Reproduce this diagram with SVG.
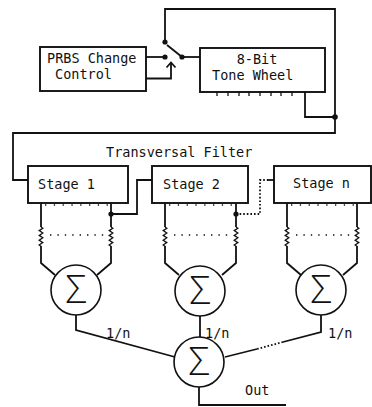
<svg xmlns="http://www.w3.org/2000/svg" width="372" height="407" viewBox="0 0 372 407">
<style>
.ln{fill:none;stroke:#111;stroke-width:1.8;stroke-linejoin:miter}
.thin{fill:none;stroke:#111;stroke-width:1.3}
.dot{fill:#111}
.box{fill:#fff;stroke:#111;stroke-width:1.9}
.ticks{fill:none;stroke:#111;stroke-width:1.3;stroke-dasharray:1.3 7.5}
.dots{fill:none;stroke:#111;stroke-width:1.4;stroke-dasharray:1.4 6}
.dash{fill:none;stroke:#111;stroke-width:1.8;stroke-dasharray:1.6 2}
.t{font-family:"DejaVu Sans Mono","Liberation Mono",monospace;font-size:13.5px;fill:#111}
.sig{font-family:"Open Sans","Lato","DejaVu Sans",sans-serif;font-weight:300;font-size:38px;fill:#111;text-anchor:middle}
.c{fill:#fff;stroke:#111;stroke-width:1.6}
</style>
<rect width="372" height="407" fill="#fff"/>
<defs>
<path id="res" class="thin" d="M0,0 l1.8,1.2 l-3.6,2.4 l3.6,2.4 l-3.6,2.4 l3.6,2.4 l-3.6,2.4 l3.6,2.4 l-3.6,2.4 l1.8,1.2"/>
</defs>
<g id="connectors">
<path class="ln" d="M165,42 V9 H335 V133 H13 V180 H28"/>
<path class="ln" d="M305,92 V117 H335"/>
<circle class="dot" cx="335" cy="117" r="2.8"/>
<path class="ln" d="M146,57 H165"/>
<circle class="dot" cx="165" cy="57" r="2.6"/>
<circle class="dot" cx="165" cy="42" r="2.6"/>
<path class="ln" d="M167,45 L182,57"/>
<circle class="dot" cx="182" cy="57" r="2.6"/>
<path class="ln" d="M182,57 H200"/>
<path class="ln" d="M127,72 H131 A6.5,6.5 0 0 1 131,85 H127 Z"/>
<path class="ln" d="M137.5,78.5 H171 V62.5"/>
<path class="ln" d="M166.5,67.5 L171,62.5 L175.5,67.5"/>
<path class="ln" d="M111,214 H137 V180 H152"/>
<circle class="dot" cx="111" cy="214" r="2.6"/>
<path class="dash" d="M236,214 H260 V180 H268"/>
<path class="ln" d="M268,180 H274"/>
<circle class="dot" cx="236" cy="214" r="2.6"/>
<path class="ln" d="M76,315 V330 L175,357"/>
<path class="ln" d="M200,316 V337"/>
<path class="ln" d="M321,315 V332 L283,342"/>
<path class="dash" d="M283,342 L257,349"/>
<path class="ln" d="M257,349 L225,357"/>
<path class="ln" d="M199,387 V405 H286"/>
</g>
<g id="prbs">
<rect class="box" x="40" y="47" width="106" height="44"/>
<text class="t" x="47" y="63">PRBS Change</text>
<text class="t" x="55" y="79">Control</text>
</g>
<g id="tonewheel">
<rect class="box" x="200" y="48" width="125" height="44"/>
<text class="t" x="257" y="64" text-anchor="middle">8-Bit</text>
<text class="t" x="212" y="80">Tone Wheel</text>
<path class="thin" d="M217,92 v4 M228,92 v4 M239,92 v4 M249,92 v4 M260,92 v4 M271,92 v4 M281,92 v4 M292,92 v4"/>
</g>
<text id="filter-label" class="t" x="106" y="157">Transversal Filter</text>
<g id="stage1">
<rect class="box" x="28" y="166" width="100" height="37"/>
<text class="t" x="38" y="189">Stage 1</text>
<path class="ticks" d="M45,205 H108"/>
<path class="ln" d="M41,203 V227 M41,246 V263 L55,275 M111,203 V227 M111,246 V263 L97,275"/>
<use href="#res" x="41" y="227"/>
<use href="#res" x="111" y="227"/>
<path class="dots" d="M50,235 H104"/>
</g>
<g id="stage2">
<rect class="box" x="152" y="166" width="96" height="37"/>
<text class="t" x="163" y="189">Stage 2</text>
<path class="ticks" d="M169,205 H233"/>
<path class="ln" d="M165,203 V227 M165,246 V263 L179,275 M236,203 V227 M236,246 V263 L222,275"/>
<use href="#res" x="165" y="227"/>
<use href="#res" x="236" y="227"/>
<path class="dots" d="M174,235 H229"/>
</g>
<g id="stagen">
<rect class="box" x="274" y="166" width="97" height="37"/>
<text class="t" x="293" y="188">Stage n</text>
<path class="ticks" d="M291,205 H355"/>
<path class="ln" d="M287,203 V227 M287,246 V263 L301,275 M357,203 V227 M357,246 V263 L343,275"/>
<use href="#res" x="287" y="227"/>
<use href="#res" x="357" y="227"/>
<path class="dots" d="M296,235 H351"/>
</g>
<g id="sum1">
<circle class="c" cx="76" cy="290" r="25"/>
<text class="sig" x="76" y="303">Σ</text>
</g>
<g id="sum2">
<circle class="c" cx="200" cy="291" r="25"/>
<text class="sig" x="200" y="304">Σ</text>
</g>
<g id="sum3">
<circle class="c" cx="321" cy="290" r="25"/>
<text class="sig" x="321" y="303">Σ</text>
</g>
<g id="sumout">
<circle class="c" cx="199" cy="362" r="25"/>
<text class="sig" x="199" y="375">Σ</text>
</g>
<text class="t" x="106" y="338">1/n</text>
<text class="t" x="205" y="338">1/n</text>
<text class="t" x="328" y="338">1/n</text>
<text class="t" x="245" y="395">Out</text>
</svg>
